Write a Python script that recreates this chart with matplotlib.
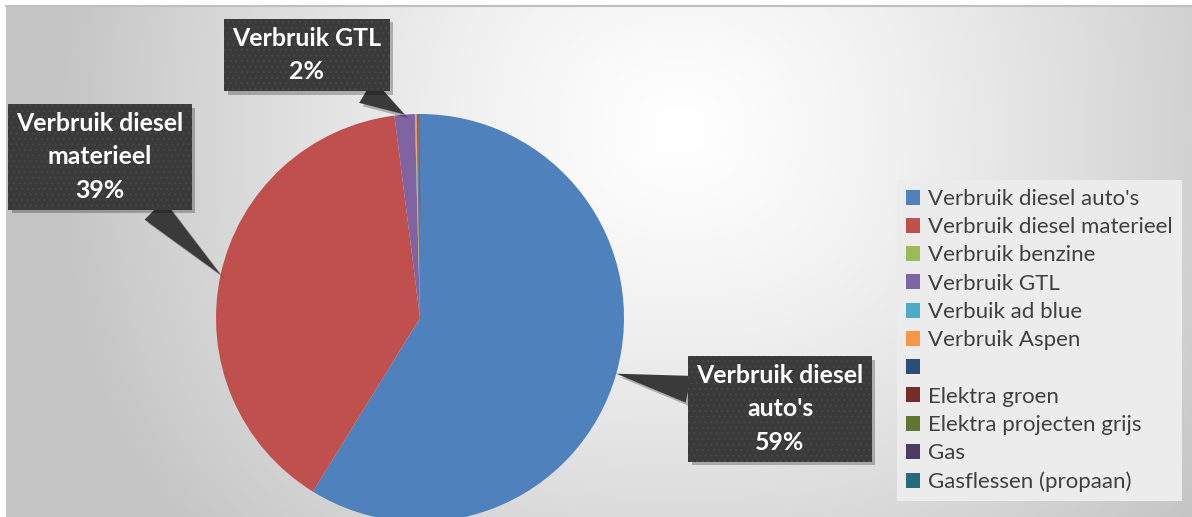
import textwrap
import numpy as np
import matplotlib
matplotlib.use("Agg")
import matplotlib.pyplot as plt
from matplotlib import patheffects as pe
from matplotlib.lines import Line2D

# ---------------- data ----------------
categories = ["Verbruik diesel auto's", "Verbruik diesel materieel", "Verbruik benzine",
              "Verbruik GTL", "Verbuik ad blue", "Verbruik Aspen", "",
              "Elektra groen", "Elektra projecten grijs", "Gas", "Gasflessen (propaan)"]
values = [58.8, 39.2, 0.0, 1.6, 0.05, 0.10, 0.05, 0.05, 0.02, 0.10, 0.03]
colors = ["#4F81BD", "#C0504D", "#9BBB59", "#8064A2", "#4BACC6", "#F79646",
          "#2C4D75", "#772C2A", "#5F7530", "#4D3B62", "#276A7C"]
labelled = [0, 1, 3]                      # slices with a data callout
label_centers_px = [(780, 409), (100, 157), (307, 55)]   # callout box centres (image px)

# ---------------- figure ----------------
W, H, DPI = 1192, 517, 100
fig = plt.figure(figsize=(W / DPI, H / DPI), dpi=DPI)
fig.patch.set_facecolor("white")

# background gradient (chart area fill)
bg = fig.add_axes([6 / W, 0, (W - 6) / W, (H - 6) / H])
bg.set_axis_off()
yy, xx = np.mgrid[6:H, 6:W].astype(float)
dx = np.abs(xx - 680) / 620.0
dy = np.abs(yy - 130) / 560.0
d = np.clip((dx ** 2.5 + dy ** 2.5) ** (1 / 2.5), 0, 1)
img = (255 - 58 * d ** 1.3) / 255.0
bg.imshow(np.dstack([img, img, img]), aspect="auto", interpolation="bilinear")
fig.add_artist(Line2D([6 / W, 1], [1 - 5.5 / H] * 2, color="#bfbfbf", lw=1.5))

# pie axes
cx, cy, r = 420, 318, 204
ax = fig.add_axes([(cx - r) / W, (H - cy - r) / H, 2 * r / W, 2 * r / H])
wedges, _ = ax.pie(values, colors=colors, startangle=90, counterclock=False,
                   radius=1, wedgeprops=dict(linewidth=0))
ax.set_xlim(-1, 1)
ax.set_ylim(-1, 1)
ax.set_axis_off()
for w in wedges:
    w.set_clip_on(False)

renderer = fig.canvas.get_renderer()


def fit_size(text, weight, target_px):
    t = fig.text(0, 0, text, fontsize=10, family="Lato", weight=weight)
    wpx = t.get_window_extent(renderer).width
    t.remove()
    return 10 * target_px / wpx


class NoHatchShadow(pe.SimplePatchShadow):
    def draw_path(self, renderer, gc, tpath, affine, rgbFace):
        gc0 = renderer.new_gc()
        gc0.copy_properties(gc)
        gc0.set_hatch(None)
        super().draw_path(renderer, gc0, tpath, affine, rgbFace)


leg_fs = fit_size("Verbruik diesel materieel", "normal", 245)
lab_fs = fit_size("Verbruik diesel", "bold", 168)

total = sum(values)
shadow = [NoHatchShadow(offset=(2.5, -2.5), shadow_rgbFace="black", alpha=0.25), pe.Normal()]
for i, (tx, ty) in zip(labelled, label_centers_px):
    w = wedges[i]
    mid = np.deg2rad((w.theta1 + w.theta2) / 2)
    tip = (np.cos(mid), np.sin(mid))
    txt = textwrap.fill(categories[i], 15) + f"\n{values[i] / total * 100:.0f}%"
    ann = ax.annotate(
        txt, xy=tip, xycoords="data", xytext=(tx, H - ty), textcoords="figure pixels",
        ha="center", va="center", fontsize=lab_fs, fontweight="bold", family="Lato",
        color="white", linespacing=1.55, annotation_clip=False, zorder=5,
        bbox=dict(boxstyle="square,pad=0.32", fc="#3a3a3a", ec="#464646", lw=0, hatch="..."),
        arrowprops=dict(arrowstyle="wedge,tail_width=1.1,shrink_factor=0.5",
                        fc="#3a3a3a", ec="none", shrinkA=0, shrinkB=0))
    ann.get_bbox_patch().set_path_effects(shadow)
    ann.arrow_patch.set_path_effects(shadow)

leg = fig.legend(wedges, categories, loc="upper left",
                 bbox_to_anchor=(897 / W, 1 - 180 / H), bbox_transform=fig.transFigure,
                 frameon=True, fancybox=False, facecolor="#ececec", edgecolor="none",
                 framealpha=1, prop=dict(family="Lato", size=leg_fs), labelcolor="#404040",
                 handlelength=0.65, handleheight=0.65, handletextpad=0.35,
                 labelspacing=0.37, borderpad=0.4, borderaxespad=0)

fig.savefig("out.png", dpi=DPI, facecolor="white")
